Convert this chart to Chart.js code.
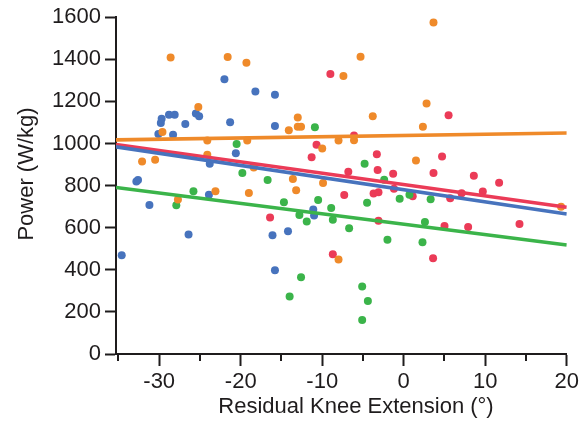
<!DOCTYPE html>
<html>
<head>
<meta charset="utf-8">
<script src="https://cdn.jsdelivr.net/npm/chart.js@4.4.1/dist/chart.umd.min.js"></script>
<style>
  html, body { margin: 0; padding: 0; background: #fff; }
  #wrap { width: 582px; height: 425px; }
</style>
</head>
<body>
<div id="wrap"><canvas id="power_chart" width="582" height="425"></canvas></div>
<script>
// scatter points, one pair of arrays per group
var orange_x = [-32.1, -30.5, -29.6, -28.6, -27.7, -25.2, -24.1, -24.1, -23.1, -21.6, -19.3, -19.2, -19.0, -18.4, -14.1, -13.6, -13.2, -13.0, -13.0, -12.6, -10.0, -9.9, -8.0, -8.0, -7.4, -6.1, -5.3, -3.8, 1.5, 2.35, 2.8, 3.65, 19.3];
var orange_y = [915, 923, 1055, 1408, 734, 1173, 1014, 946, 773, 1411, 1384, 1014, 765, 886, 1063, 831, 778, 1123, 1080, 1080, 976, 812, 1014, 449, 1321, 1016, 1412, 1130, 919, 1079, 1190, 1575, 700];

var blue_x = [-34.6, -32.8, -32.6, -31.2, -30.1, -29.8, -29.7, -28.8, -28.3, -28.1, -26.8, -26.4, -25.5, -25.1, -23.9, -23.8, -22.0, -21.3, -20.6, -18.2, -16.1, -15.8, -15.8, -15.8, -14.2, -11.1, -11.0];
var blue_y = [469, 820, 827, 708, 1045, 1097, 1118, 1137, 1042, 1137, 1093, 568, 1143, 1130, 756, 904, 1305, 1101, 954, 1247, 564, 1231, 1083, 398, 583, 686, 658];

var green_x = [-27.9, -25.8, -20.5, -19.8, -16.7, -14.7, -14.0, -12.8, -12.6, -11.9, -10.9, -10.5, -8.9, -8.7, -6.7, -5.1, -5.1, -4.8, -4.5, -4.4, -2.4, -2.0, -0.5, 0.7, 2.3, 2.6, 3.3];
var green_y = [707, 773, 998, 860, 827, 721, 273, 660, 365, 630, 1077, 731, 694, 638, 597, 321, 162, 904, 718, 252, 828, 543, 737, 757, 531, 627, 735];

var red_x = [-16.4, -11.3, -10.7, -9.0, -8.7, -7.3, -6.8, -6.1, -3.7, -3.3, -3.2, -3.1, -3.1, -1.3, -1.2, 1.1, 3.6, 3.65, 4.7, 5.0, 5.5, 5.7, 7.1, 7.9, 8.6, 9.7, 11.7, 14.2];
var red_y = [649, 935, 994, 1330, 474, 755, 866, 1038, 762, 949, 874, 768, 633, 856, 785, 750, 455, 860, 938, 608, 1134, 740, 764, 603, 847, 772, 813, 617];

// fit lines, read at the two ends of the x axis
var fit_x = [-35.3, 20];
var orange_fit = [1017, 1050];
var red_fit = [995, 697];
var blue_fit = [984, 665];
var green_fit = [791, 518];

var x_ticks = [-35, -30, -25, -20, -15, -10, -5, 0, 5, 10, 15, 20];
var y_ticks = [0, 200, 400, 600, 800, 1000, 1200, 1400, 1600];

var colors = {
  orange: "#ef8a2a",
  blue: "#4773bd",
  green: "#3bb44a",
  red: "#eb3b57"
};
var ink = "#1f1c1d";
var fontName = '"Liberation Sans", Arial, sans-serif';

function pts(xs, ys){
  var out = [];
  for (var i = 0; i < xs.length; i++) {
    out.push({x: xs[i], y: ys[i]});
  }
  return out;
}

function dots(data, color){
  return {
    type: "scatter",
    data: data,
    backgroundColor: color,
    borderWidth: 0,
    pointRadius: 4,
    order: 10
  };
}

function fit(ys, color, ord){
  return {
    type: "line",
    data: pts(fit_x, ys),
    borderColor: color,
    borderWidth: 3.6,
    pointRadius: 0,
    fill: false,
    tension: 0,
    borderCapStyle: "butt",
    order: ord
  };
}

function each(arr, fn){
  for (var i = 0; i < arr.length; i++) fn(arr[i], i);
}

// minor x ticks (every 5) are shorter than the labelled ones, plus axis titles
var extras = {
  id: "extras",
  afterDraw: function(chart){
    var ctx = chart.ctx;
    var xs = chart.scales.x;
    var bottom = chart.chartArea.bottom;
    ctx.save();
    ctx.strokeStyle = ink;
    ctx.lineWidth = 2;
    each(x_ticks, function(v){
      if (v % 10 === 0) return;
      var px = Math.round(xs.getPixelForValue(v));
      ctx.beginPath();
      ctx.moveTo(px, bottom);
      ctx.lineTo(px, bottom + 7);
      ctx.stroke();
    });
    ctx.fillStyle = ink;
    ctx.font = "22px " + fontName;
    ctx.textAlign = "center";
    ctx.textBaseline = "alphabetic";
    ctx.fillText("Residual Knee Extension (°)", 356, 413);
    ctx.translate(33, 174);
    ctx.rotate(-Math.PI / 2);
    ctx.fillText("Power (W/kg)", 0, 0);
    ctx.restore();
  }
};

var ctx = document.getElementById("power_chart");
var chart = new Chart(ctx, {
  type: "scatter",
  data: {
    datasets: [
      dots(pts(orange_x, orange_y), colors.orange),
      dots(pts(blue_x, blue_y), colors.blue),
      dots(pts(green_x, green_y), colors.green),
      dots(pts(red_x, red_y), colors.red),
      fit(orange_fit, colors.orange, 4),
      fit(red_fit, colors.red, 3),
      fit(blue_fit, colors.blue, 2),
      fit(green_fit, colors.green, 1)
    ]
  },
  options: {
    responsive: false,
    animation: false,
    events: [],
    layout: { padding: { top: 15, right: 12, left: 0, bottom: 0 } },
    plugins: {
      legend: { display: false },
      tooltip: { enabled: false },
      title: { display: false }
    },
    scales: {
      x: {
        type: "linear",
        min: fit_x[0],
        max: fit_x[1],
        afterBuildTicks: function(scale){
          scale.ticks = x_ticks.map(function(v){ return {value: v}; });
        },
        afterFit: function(scale){ scale.height = 71; },
        grid: {
          display: true,
          drawOnChartArea: false,
          drawTicks: true,
          tickLength: 12,
          tickWidth: 2,
          tickColor: function(c){
            return (c.tick && c.tick.value % 10 === 0) ? ink : "rgba(0,0,0,0)";
          }
        },
        border: { display: true, color: ink, width: 2 },
        ticks: {
          color: ink,
          padding: 3,
          maxRotation: 0,
          autoSkip: false,
          font: { family: fontName, size: 22 },
          callback: function(v){ return v % 10 === 0 ? String(v) : ""; }
        }
      },
      y: {
        type: "linear",
        min: 0,
        max: 1600,
        afterBuildTicks: function(scale){
          scale.ticks = y_ticks.map(function(v){ return {value: v}; });
        },
        afterFit: function(scale){ scale.width = 116; },
        grid: {
          display: true,
          drawOnChartArea: false,
          drawTicks: true,
          tickLength: 11,
          tickWidth: 2,
          tickColor: ink
        },
        border: { display: true, color: ink, width: 2 },
        ticks: {
          color: ink,
          padding: 4,
          font: { family: fontName, size: 22 },
          callback: function(v){ return String(v); }
        }
      }
    }
  },
  plugins: [extras]
});
</script>
</body>
</html>
